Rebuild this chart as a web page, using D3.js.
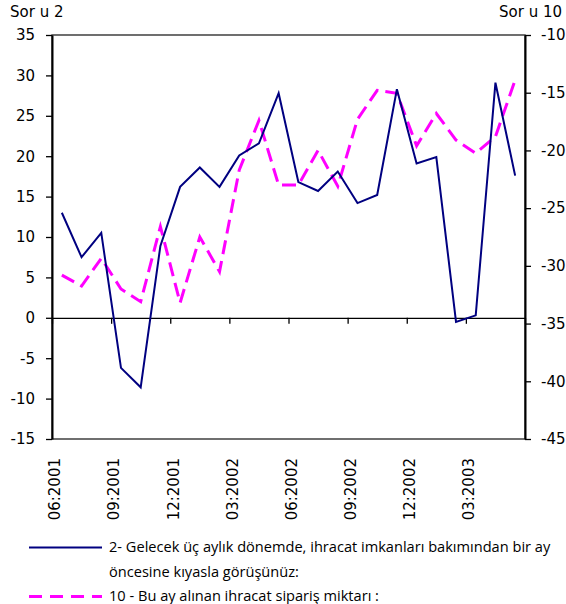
<!DOCTYPE html>
<html>
<head>
<meta charset="utf-8">
<script src="https://cdn.jsdelivr.net/npm/d3@7"></script>
<style>
  body { margin: 0; background: #fff; }
  svg text { font-family: "DejaVu Sans", sans-serif; fill: #000; }
</style>
</head>
<body>
<div id="chart"></div>
<script>
// months shown on x axis (every 3rd is labelled)
const months = ["06:2001","07:2001","08:2001","09:2001","10:2001","11:2001",
  "12:2001","01:2002","02:2002","03:2002","04:2002","05:2002",
  "06:2002","07:2002","08:2002","09:2002","10:2002","11:2002",
  "12:2002","01:2003","02:2003","03:2003","04:2003","05:2003"];

// Soru 2 (left axis)
const soru2 = [13.0, 7.5, 10.5, -6.2, -8.6, 8.9, 16.2, 18.6, 16.2, 20.1, 21.6, 27.8,
  16.8, 15.7, 18.1, 14.2, 15.2, 28.3, 19.1, 19.9, -0.5, 0.3, 29.1, 17.6];

// Soru 10 (right axis)
const soru10 = [-30.8, -31.75, -29.35, -32.0, -33.1, -26.6, -33.2, -27.5, -30.5, -21.7, -17.4, -23.0,
  -23.0, -20.0, -23.1, -17.3, -14.8, -15.05, -19.6, -16.8, -19.1, -20.25, -18.8, -13.9];

const leftTicks = [35, 30, 25, 20, 15, 10, 5, 0, -5, -10, -15];
const rightTicks = [-10, -15, -20, -25, -30, -35, -40, -45];

const legendLabels = [
  ["2- Gelecek üç aylık dönemde, ihracat imkanları bakımından bir ay", "öncesine kıyasla görüşünüz:"],
  ["10 - Bu ay alınan ihracat sipariş miktarı :"]
];

const width = 566, height = 604;
const plot = { left: 52, right: 525, top: 35, bottom: 439 };

const svg = d3.select("#chart").append("svg")
  .attr("width", width)
  .attr("height", height);

const x = d3.scaleLinear().domain([0, months.length]).range([plot.left, plot.right]);
const yL = d3.scaleLinear().domain([-15, 35]).range([plot.bottom, plot.top]);
const yR = d3.scaleLinear().domain([-45, -10]).range([plot.bottom, plot.top]);

// plain hyphen instead of unicode minus
const fmt = d => String(d);

// plot border (top / bottom)
svg.append("rect")
  .attr("x", plot.left).attr("y", plot.top)
  .attr("width", plot.right - plot.left).attr("height", plot.bottom - plot.top)
  .attr("fill", "none").attr("stroke", "#222").attr("stroke-width", 1.3);

// zero line with category ticks
const xAxis = svg.append("g")
  .attr("transform", `translate(0,${yL(0)})`)
  .call(d3.axisBottom(x).tickValues(d3.range(0, months.length + 1, 3)).tickFormat("").tickSize(6).tickSizeOuter(0));
xAxis.select(".domain").attr("stroke", "#000").attr("stroke-width", 1.3);
xAxis.selectAll(".tick line").attr("stroke", "#000").attr("stroke-width", 1.3);

// x labels, rotated
svg.append("g").selectAll("text")
  .data(months.filter((m, i) => i % 3 === 0))
  .enter().append("text")
  .attr("transform", (d, i) => `translate(${x(i * 3) + 3},458) rotate(-90)`)
  .attr("text-anchor", "end")
  .attr("dy", "0.35em")
  .style("font-size", "15px")
  .text(d => d);

// left axis
const gL = svg.append("g")
  .attr("transform", `translate(${plot.left},0)`)
  .call(d3.axisLeft(yL).tickValues(leftTicks).tickFormat(fmt).tickSize(6).tickSizeOuter(0).tickPadding(11));
gL.select(".domain").attr("stroke", "#000").attr("stroke-width", 2);
gL.selectAll(".tick line").attr("stroke", "#000").attr("stroke-width", 1.3);
gL.selectAll("text").style("font-size", "15px");

// right axis
const gR = svg.append("g")
  .attr("transform", `translate(${plot.right},0)`)
  .call(d3.axisRight(yR).tickValues(rightTicks).tickFormat(fmt).tickSize(6).tickSizeOuter(0).tickPadding(10));
gR.select(".domain").attr("stroke", "#000").attr("stroke-width", 2);
gR.selectAll(".tick line").attr("stroke", "#000").attr("stroke-width", 1.3);
gR.selectAll("text").style("font-size", "15px");

// axis titles
svg.append("text").attr("x", 10).attr("y", 17).style("font-size", "15px").text("Sor u 2");
svg.append("text").attr("x", 562).attr("y", 17).attr("text-anchor", "end").style("font-size", "15px").text("Sor u 10");

// series lines
const line2 = d3.line().x((d, i) => x(i + 0.5)).y(d => yL(d));
const line10 = d3.line().x((d, i) => x(i + 0.5)).y(d => yR(d));

svg.append("path")
  .datum(soru10)
  .attr("d", line10)
  .attr("fill", "none")
  .attr("stroke", "#ff00ff")
  .attr("stroke-width", 3)
  .attr("stroke-dasharray", "14,7");

svg.append("path")
  .datum(soru2)
  .attr("d", line2)
  .attr("fill", "none")
  .attr("stroke", "#000080")
  .attr("stroke-width", 2);

// legend
const legend = svg.append("g");
legend.append("line")
  .attr("x1", 29).attr("x2", 102).attr("y1", 547.5).attr("y2", 547.5)
  .attr("stroke", "#000080").attr("stroke-width", 2);
legend.append("line")
  .attr("x1", 29).attr("x2", 102).attr("y1", 596.5).attr("y2", 596.5)
  .attr("stroke", "#ff00ff").attr("stroke-width", 3).attr("stroke-dasharray", "13,8");

const legendRows = [[legendLabels[0][0], 552], [legendLabels[0][1], 577], [legendLabels[1][0], 601]];
legend.selectAll("text.leg")
  .data(legendRows)
  .enter().append("text")
  .attr("class", "leg")
  .attr("x", 109)
  .attr("y", d => d[1])
  .style("font-size", "14.6px")
  .style("font-family", "'Open Sans', sans-serif")
  .text(d => d[0]);
</script>
</body>
</html>
